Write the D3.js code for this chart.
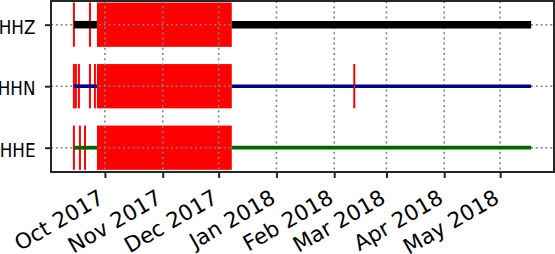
<!DOCTYPE html>
<html>
<head>
<meta charset="utf-8">
<script src="https://cdn.jsdelivr.net/npm/d3@7"></script>
<style>
  body { margin: 0; background: #fff; }
  text { font-family: "DejaVu Sans", sans-serif; fill: #000; }
</style>
</head>
<body>
<div id="chart"></div>
<script>
// channels, top to bottom
const channels = ["HHZ", "HHN", "HHE"];
const lineColors = ["#000000", "#00008b", "#006400"];
const lineWidths = [7.5, 3.6, 3.8];
const monthTicks = ["2017-10-01", "2017-11-01", "2017-12-01", "2018-01-01",
                    "2018-02-01", "2018-03-01", "2018-04-01", "2018-05-01"];

const dataStart = "2017-09-14T08:00";
const dataEnd = "2018-05-17T15:00";

// available data per channel
const dataHHZ = [[dataStart, "2017-09-26T17:00"], ["2017-12-08T01:00", dataEnd]];
const dataHHN = [[dataStart, "2017-09-26T17:00"], ["2017-12-08T01:00", "2018-02-11T12:00"],
                 ["2018-02-12T00:00", dataEnd]];
const dataHHE = [[dataStart, "2017-09-26T17:00"], ["2017-12-08T01:00", dataEnd]];

// gaps per channel
const gapsHHZ = [["2017-09-14T08:00", "2017-09-14T09:00"], ["2017-09-22T20:00", "2017-09-23T02:00"],
                 ["2017-09-26T17:00", "2017-12-08T01:00"]];
const gapsHHN = [["2017-09-14T08:00", "2017-09-14T09:00"], ["2017-09-15T08:00", "2017-09-15T12:00"],
                 ["2017-09-16T22:00", "2017-09-17T04:00"], ["2017-09-22T20:00", "2017-09-23T02:00"],
                 ["2017-09-25T12:00", "2017-09-25T18:00"], ["2017-09-26T17:00", "2017-12-08T01:00"],
                 ["2018-02-11T12:00", "2018-02-12T00:00"]];
const gapsHHE = [["2017-09-14T08:00", "2017-09-14T09:00"], ["2017-09-17T11:00", "2017-09-17T17:00"],
                 ["2017-09-20T04:00", "2017-09-20T10:00"], ["2017-09-26T17:00", "2017-12-08T01:00"]];

const dataSegs = [dataHHZ, dataHHN, dataHHE];
const gapSegs = [gapsHHZ, gapsHHN, gapsHHE];

const width = 555, height = 254;
const margin = { top: 1, right: 1, bottom: 82, left: 51 };
const innerWidth = width - margin.left - margin.right;
const innerHeight = height - margin.top - margin.bottom;
const squish = 0.84;   // y labels look horizontally compressed

const parse = d3.utcParse("%Y-%m-%dT%H:%M");
const parseDay = d3.utcParse("%Y-%m-%d");

const svg = d3.select("#chart")
  .append("svg")
  .attr("width", width)
  .attr("height", height);

const innerChart = svg.append("g")
  .attr("transform", `translate(${margin.left},${margin.top})`);

// 5% padding around the data range, like matplotlib
const t0 = parse(dataStart), t1 = parse(dataEnd);
const pad = (t1 - t0) * 0.05;
const xScale = d3.scaleUtc()
  .domain([new Date(+t0 - pad), new Date(+t1 + pad)])
  .range([0, innerWidth]);

const yScale = d3.scaleLinear()
  .domain([-0.385, 2.395])
  .range([0, innerHeight]);

const halfBand = 0.36;

// gaps in red
channels.forEach((ch, i) => {
  innerChart.append("g")
    .selectAll("rect")
    .data(gapSegs[i])
    .join("rect")
      .attr("x", d => {
        const a = xScale(parse(d[0])), b = xScale(parse(d[1]));
        return b - a < 2 ? (a + b) / 2 - 1 : a;
      })
      .attr("width", d => Math.max(2, xScale(parse(d[1])) - xScale(parse(d[0]))))
      .attr("y", yScale(i - halfBand))
      .attr("height", yScale(i + halfBand) - yScale(i - halfBand))
      .attr("fill", "#ff0000");
});

// grid
const ticks = monthTicks.map(parseDay);
innerChart.append("g")
  .selectAll("line")
  .data(ticks)
  .join("line")
    .attr("x1", d => xScale(d))
    .attr("x2", d => xScale(d))
    .attr("y1", 0)
    .attr("y2", innerHeight)
    .attr("stroke", "#808080")
    .attr("stroke-width", 1.6)
    .attr("stroke-dasharray", "2,3.2");

innerChart.append("g")
  .selectAll("line")
  .data(channels)
  .join("line")
    .attr("x1", 0)
    .attr("x2", innerWidth)
    .attr("y1", (d, i) => yScale(i))
    .attr("y2", (d, i) => yScale(i))
    .attr("stroke", "#808080")
    .attr("stroke-width", 1.6)
    .attr("stroke-dasharray", "2,2.8");

// data lines
channels.forEach((ch, i) => {
  innerChart.append("g")
    .selectAll("line")
    .data(dataSegs[i])
    .join("line")
      .attr("x1", d => xScale(parse(d[0])))
      .attr("x2", d => xScale(parse(d[1])))
      .attr("y1", yScale(i))
      .attr("y2", yScale(i))
      .attr("stroke", lineColors[i])
      .attr("stroke-width", lineWidths[i]);
});

// axes
const bottomAxis = d3.axisBottom(xScale)
  .tickValues(ticks)
  .tickFormat(d3.utcFormat("%b %Y"))
  .tickSize(6)
  .tickPadding(0);

const xAxis = innerChart.append("g")
  .attr("class", "x-axis")
  .attr("transform", `translate(0,${innerHeight})`)
  .call(bottomAxis);

xAxis.select(".domain").remove();
xAxis.selectAll(".tick line").attr("stroke", "#262626").attr("stroke-width", 2);
xAxis.selectAll(".tick text")
  .attr("y", null)
  .attr("dy", null)
  .attr("font-size", 21.5)
  .attr("text-anchor", "end")
  .attr("transform", "translate(0,30) rotate(-30)");

const leftAxis = d3.axisLeft(yScale)
  .tickValues([0, 1, 2])
  .tickFormat(i => channels[i])
  .tickSize(6)
  .tickPadding(0);

const yAxis = innerChart.append("g")
  .attr("class", "y-axis")
  .call(leftAxis);

yAxis.select(".domain").remove();
yAxis.selectAll(".tick line").attr("stroke", "#262626").attr("stroke-width", 2);
yAxis.selectAll(".tick text")
  .attr("x", null)
  .attr("dy", null)
  .attr("font-size", 20)
  .attr("text-anchor", "end")
  .attr("transform", `translate(-15.5,8.5) scale(${squish},1)`);

// frame
innerChart.append("rect")
  .attr("x", 0)
  .attr("y", 0)
  .attr("width", innerWidth)
  .attr("height", innerHeight)
  .attr("fill", "none")
  .attr("stroke", "#262626")
  .attr("stroke-width", 2);
</script>
</body>
</html>
